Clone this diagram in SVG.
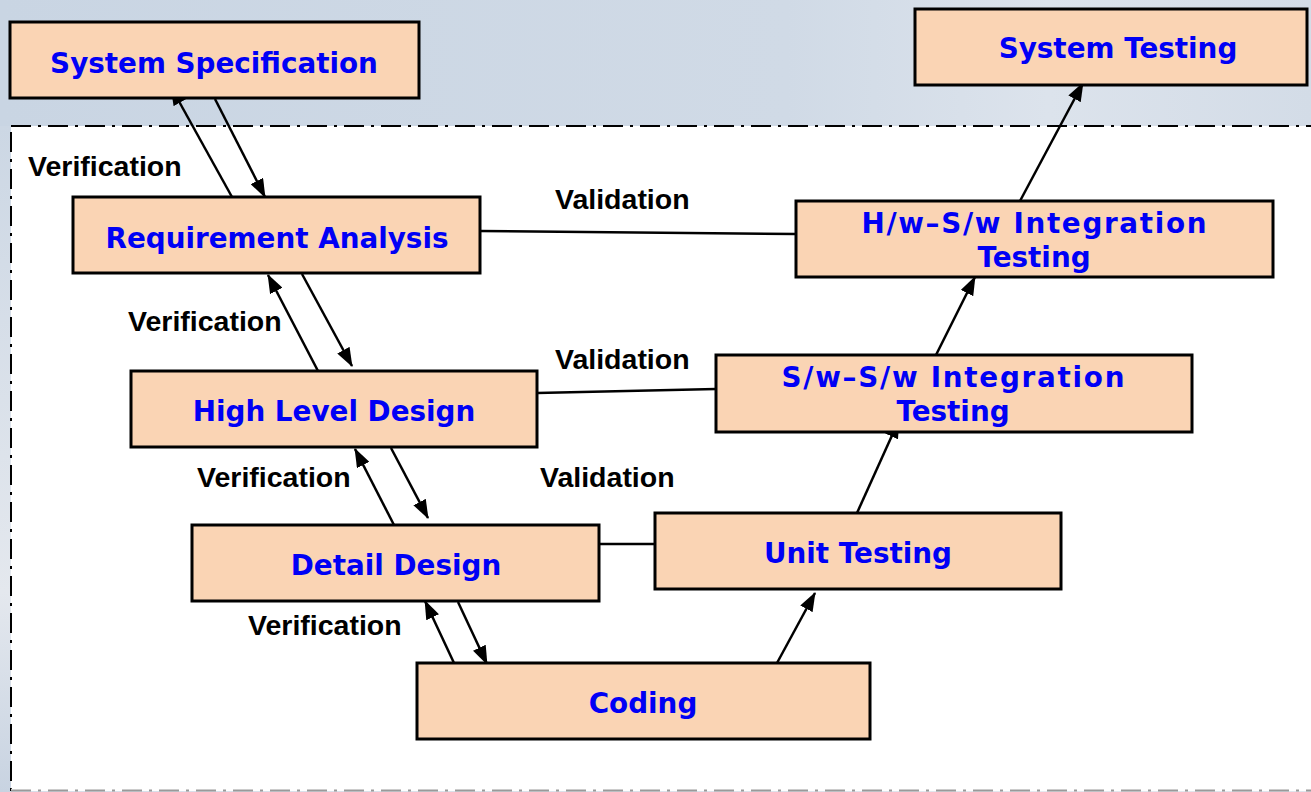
<svg xmlns="http://www.w3.org/2000/svg" width="1311" height="792" viewBox="0 0 1311 792">
  <style>
    .box { fill: #FAD4B4; stroke: #000; stroke-width: 3; }
    .title { font-family: "DejaVu Sans", Verdana, sans-serif; font-weight: bold; font-size: 27.8px; fill: #0000F5; text-anchor: middle; }
    .tag { font-family: "Liberation Sans", Arial, sans-serif; font-weight: bold; font-size: 28.5px; fill: #000; }
    .flow { stroke: #000; stroke-width: 2.5; fill: none; }
    .arrow { marker-end: url(#head); }
  </style>
  <defs>
    <marker id="head" markerUnits="userSpaceOnUse" markerWidth="19" markerHeight="14" refX="18" refY="7" orient="auto">
      <path d="M0,0 L19,7 L0,14 z" fill="#000"/>
    </marker>
    <linearGradient id="sky" x1="0" y1="0" x2="1" y2="0">
      <stop offset="0" stop-color="#C9D5E3"/>
      <stop offset="0.6" stop-color="#D0DAE6"/>
      <stop offset="0.8" stop-color="#DCE3EC"/>
      <stop offset="1" stop-color="#D3DCE7"/>
    </linearGradient>
    <linearGradient id="edge" x1="0" y1="0" x2="0" y2="1">
      <stop offset="0" stop-color="#CCD7E4"/>
      <stop offset="0.7" stop-color="#E4E8EE"/>
      <stop offset="1" stop-color="#C8D3E1"/>
    </linearGradient>
  </defs>

  <!-- backdrop -->
  <rect x="0" y="0" width="1311" height="792" fill="url(#sky)"/>
  <rect x="0" y="126" width="12" height="666" fill="url(#edge)"/>

  <!-- dash-dot frame around the lower stages -->
  <rect x="11" y="126" width="1310" height="664" fill="#FFFFFF" stroke="#000" stroke-width="2" stroke-dasharray="20 7 3 7"/>
  <line x1="11" y1="790" x2="1311" y2="790" stroke="#FFFFFF" stroke-width="2.5"/>
  <line x1="11" y1="790.5" x2="1311" y2="790.5" stroke="#9A9A9A" stroke-width="2" stroke-dasharray="20 7 3 7"/>

  <!-- connectors -->
  <g id="connectors">
    <line class="flow arrow" x1="232" y1="197" x2="171" y2="87"/>
    <line class="flow arrow" x1="215" y1="99" x2="265" y2="197"/>

    <line class="flow arrow" x1="318" y1="371" x2="268" y2="275"/>
    <line class="flow arrow" x1="302" y1="274" x2="352" y2="366"/>

    <line class="flow arrow" x1="394" y1="525" x2="355" y2="449"/>
    <line class="flow arrow" x1="391" y1="448" x2="428" y2="518"/>

    <line class="flow arrow" x1="454" y1="663" x2="425" y2="601"/>
    <line class="flow arrow" x1="458" y1="602" x2="487" y2="664"/>

    <line class="flow arrow" x1="777" y1="663" x2="815" y2="593"/>
    <line class="flow arrow" x1="857" y1="513" x2="899" y2="420"/>
    <line class="flow arrow" x1="936" y1="355" x2="975" y2="277"/>
    <line class="flow arrow" x1="1020" y1="201" x2="1083" y2="83"/>

    <line class="flow" x1="480" y1="231" x2="796" y2="234"/>
    <line class="flow" x1="537" y1="393" x2="716" y2="389"/>
    <line class="flow" x1="599" y1="544" x2="655" y2="544"/>
  </g>

  <!-- stages -->
  <g id="system-specification">
    <rect class="box" x="10" y="22" width="409" height="76"/>
    <text class="title" x="214" y="73">System Specification</text>
  </g>
  <g id="system-testing">
    <rect class="box" x="915" y="9" width="392" height="76"/>
    <text class="title" x="1118" y="58">System Testing</text>
  </g>
  <g id="requirement-analysis">
    <rect class="box" x="73" y="197" width="407" height="76"/>
    <text class="title" x="277" y="248">Requirement Analysis</text>
  </g>
  <g id="hw-sw-integration-testing">
    <rect class="box" x="796" y="201" width="477" height="76"/>
    <text class="title" x="1034" y="233" textLength="345" lengthAdjust="spacing">H/w–S/w Integration</text>
    <text class="title" x="1034" y="267">Testing</text>
  </g>
  <g id="high-level-design">
    <rect class="box" x="131" y="371" width="406" height="76"/>
    <text class="title" x="334" y="421">High Level Design</text>
  </g>
  <g id="sw-sw-integration-testing">
    <rect class="box" x="716" y="355" width="476" height="77"/>
    <text class="title" x="953" y="387" textLength="343" lengthAdjust="spacing">S/w–S/w Integration</text>
    <text class="title" x="953" y="421">Testing</text>
  </g>
  <g id="detail-design">
    <rect class="box" x="192" y="525" width="407" height="76"/>
    <text class="title" x="396" y="575">Detail Design</text>
  </g>
  <g id="unit-testing">
    <rect class="box" x="655" y="513" width="406" height="76"/>
    <text class="title" x="858" y="563">Unit Testing</text>
  </g>
  <g id="coding">
    <rect class="box" x="417" y="663" width="453" height="76"/>
    <text class="title" x="643" y="713">Coding</text>
  </g>

  <!-- labels -->
  <g id="labels">
    <text class="tag" x="28" y="176">Verification</text>
    <text class="tag" x="128" y="331">Verification</text>
    <text class="tag" x="197" y="487">Verification</text>
    <text class="tag" x="248" y="635">Verification</text>
    <text class="tag" x="555" y="209">Validation</text>
    <text class="tag" x="555" y="369">Validation</text>
    <text class="tag" x="540" y="487">Validation</text>
  </g>
</svg>
